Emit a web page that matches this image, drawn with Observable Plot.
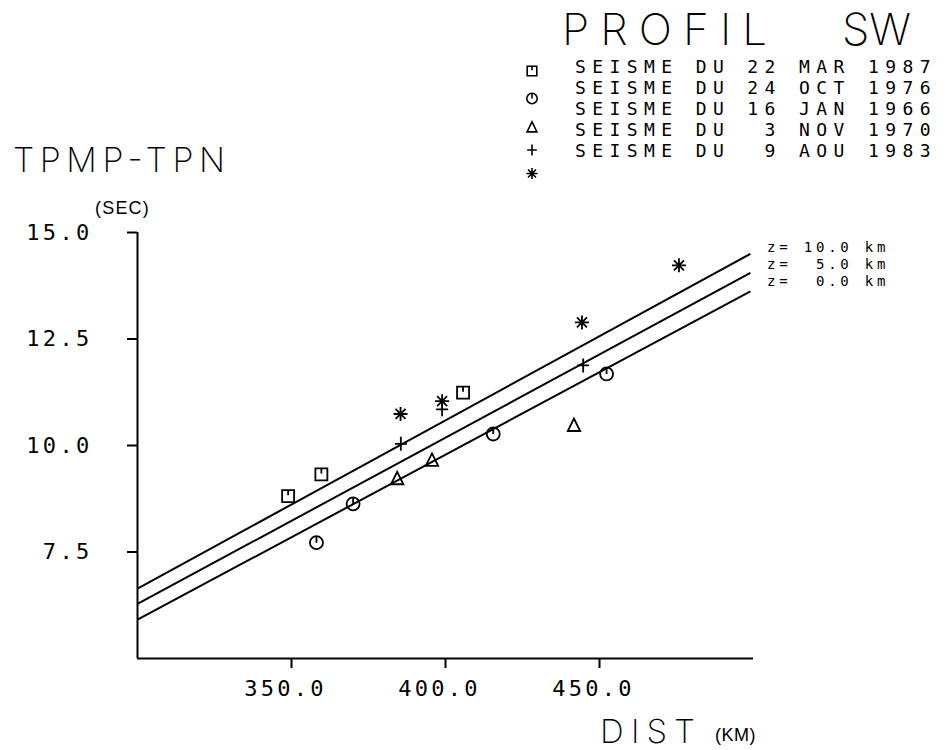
<!DOCTYPE html>
<html><head><meta charset="utf-8">
<script src="https://cdn.jsdelivr.net/npm/d3@7"></script>
<script src="https://cdn.jsdelivr.net/npm/@observablehq/plot@0.6"></script>
<style>
body{margin:0;background:#fff;}
#wrap{position:relative;width:946px;height:750px;overflow:hidden;background:#fff;}
#chart{position:absolute;left:0;top:0;}
#ann{position:absolute;left:0;top:0;pointer-events:none;}
#ann text{font-family:"DejaVu Sans Mono",monospace;fill:#000;white-space:pre;dominant-baseline:central;}
#ann text.big{font-family:Inter,"DejaVu Sans",sans-serif;font-weight:200;}
#chart svg text{letter-spacing:3.3px;}
</style></head>
<body><div id="wrap"><div id="chart"></div><svg id="ann" width="946" height="750"></svg></div>
<script>
// ---- data ----
const eventLabels = [
  "SEISME DU 22 MAR 1987",
  "SEISME DU 24 OCT 1976",
  "SEISME DU 16 JAN 1966",
  "SEISME DU  3 NOV 1970",
  "SEISME DU  9 AOU 1983"
];
const distMar1987 = [348.9, 359.7, 405.7];
const timeMar1987 = [8.81, 9.32, 11.24];
const distOct1976 = [358.1, 370.0, 415.5, 452.3];
const timeOct1976 = [7.72, 8.63, 10.27, 11.68];
const distJan1966 = [384.3, 395.6, 441.7];
const timeJan1966 = [9.22, 9.65, 10.47];
const distNov1970 = [385.5, 398.9, 444.7];
const timeNov1970 = [10.04, 10.85, 11.88];
const distAou1983 = [385.4, 398.9, 444.3, 475.8];
const timeAou1983 = [10.74, 11.04, 12.89, 14.23];

const depthLabels = ["z= 10.0 km", "z=  5.0 km", "z=  0.0 km"];
const lineDistStart = [300, 300, 300];
const lineDistEnd = [499, 499, 499];
const lineTimeStart = [6.64, 6.28, 5.91];
const lineTimeEnd = [14.50, 14.05, 13.62];

const xTicks = [350, 400, 450];
const yTicks = [7.5, 10, 12.5, 15];

// ---- plotter-style symbols ----
const symSquareTick = {draw(c){c.moveTo(-6,-6);c.lineTo(6,-6);c.lineTo(6,6);c.lineTo(-6,6);c.closePath();c.moveTo(0,-6);c.lineTo(0,-1);}};
const symCircleTick = {draw(c){c.moveTo(6.5,0);c.arc(0,0,6.5,0,2*Math.PI);c.moveTo(0,-6.5);c.lineTo(0,0);}};
const symTriangle = {draw(c){c.moveTo(0,-7);c.lineTo(6.2,5.5);c.lineTo(-6.2,5.5);c.closePath();}};
const symPlus = {draw(c){c.moveTo(-6,0);c.lineTo(6,0);c.moveTo(0,-7);c.lineTo(0,7);}};
const symAst = {draw(c){c.moveTo(-7,0);c.lineTo(7,0);c.moveTo(0,-7);c.lineTo(0,7);c.moveTo(-5,-5);c.lineTo(5,5);c.moveTo(-5,5);c.lineTo(5,-5);}};
const symbols = [symSquareTick, symCircleTick, symTriangle, symPlus, symAst];

const pts = (xs, ys) => xs.map((x, i) => ({x, y: ys[i]}));
const seriesPts = [
  pts(distMar1987, timeMar1987),
  pts(distOct1976, timeOct1976),
  pts(distJan1966, timeJan1966),
  pts(distNov1970, timeNov1970),
  pts(distAou1983, timeAou1983)
];
const links = depthLabels.map((d, i) => ({x1: lineDistStart[i], y1: lineTimeStart[i], x2: lineDistEnd[i], y2: lineTimeEnd[i]}));

const chart = Plot.plot({
  width: 946, height: 750,
  marginLeft: 137, marginRight: 193, marginTop: 232, marginBottom: 92,
  x: {domain: [300, 500]},
  y: {domain: [5, 15]},
  style: {fontFamily: "DejaVu Sans Mono", fontSize: "22px", color: "#000", background: "transparent"},
  marks: [
    Plot.ruleX([300], {y1: 5, y2: 15, stroke: "black", strokeWidth: 2}),
    Plot.ruleY([5], {x1: 300, x2: 500, stroke: "black", strokeWidth: 2}),
    Plot.axisY({ticks: yTicks, tickSize: 10, tickPadding: 35, tickFormat: d => d.toFixed(1), label: null, strokeWidth: 2}),
    Plot.axisX({ticks: xTicks, tickSize: 10, tickFormat: () => "", label: null, strokeWidth: 2}),
    Plot.axisX({ticks: xTicks, tickSize: 0, tickPadding: 22, dx: -6, tickFormat: d => d.toFixed(1), label: null}),
    Plot.link(links, {x1: "x1", y1: "y1", x2: "x2", y2: "y2", stroke: "black", strokeWidth: 2}),
    ...seriesPts.map((data, i) => Plot.dot(data, {x: "x", y: "y", symbol: symbols[i], stroke: "black", fill: "none", strokeWidth: 1.8}))
  ]
});
document.getElementById("chart").appendChild(chart);

// ---- annotations (title, legend, axis names, line labels) ----
const ann = d3.select("#ann");
function txt(s, x, y, size, ls, family) {
  const t = ann.append("text").attr("x", x).attr("y", y).text(s)
    .style("font-size", size + "px").style("letter-spacing", ls + "px");
  if (family) t.style("font-family", family);
  return t;
}
function big(s, x, y, size, len) {
  return ann.append("text").attr("class", "big").attr("x", x).attr("y", y)
    .attr("textLength", len).attr("lengthAdjust", "spacing")
    .style("font-size", size + "px").text(s);
}
// title with a gap between the two words
const title = ann.append("text").attr("class", "big").attr("y", 29).style("font-size", "44px");
title.append("tspan").attr("x", 562).attr("textLength", 205).attr("lengthAdjust", "spacing").text("PROFIL");
title.append("tspan").text(" ");
title.append("tspan").attr("x", 842).style("letter-spacing", "0px").text("SW");

const legendY = [66.5, 87.5, 108.5, 129.5, 150.5];
const legendSymY = [71, 98.5, 127.5, 150, 173.5];
eventLabels.forEach((s, i) => {
  txt(s, 575, legendY[i], 18, 6.4);
  ann.append("path").attr("d", d3.symbol(symbols[i])())
    .attr("transform", `translate(532,${legendSymY[i]}) scale(0.8)`)
    .attr("fill", "none").attr("stroke", "black").attr("stroke-width", 2);
});
big("TPMP-TPN", 13, 159, 34, 212);
txt("(SEC)", 95, 208, 18, 1.2, "Liberation Sans");
big("DIST", 600, 731, 33, 95);
txt("(KM)", 715, 735, 18, 0.5, "Liberation Sans");
const depthLabelY = [247, 264, 281];
depthLabels.forEach((s, i) => txt(s, 767, depthLabelY[i], 14, 3.8));
</script>
</body></html>
